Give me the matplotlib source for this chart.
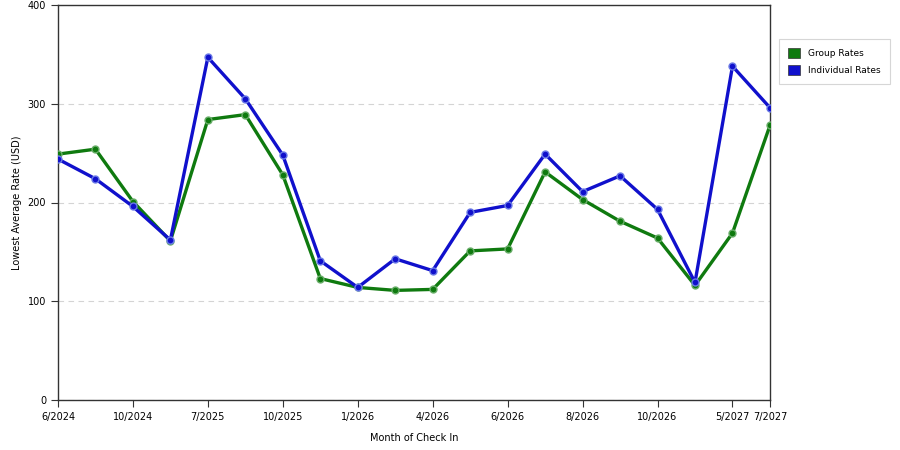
import matplotlib
matplotlib.use('Agg')
import matplotlib.pyplot as plt
from matplotlib.patches import Patch

# month index 0..19, labels shown on every other point plus the last one
months = list(range(20))
tick_pos = [0, 2, 4, 6, 8, 10, 12, 14, 16, 18, 19]
tick_labels = ['6/2024', '10/2024', '7/2025', '10/2025', '1/2026', '4/2026',
               '6/2026', '8/2026', '10/2026', '5/2027', '7/2027']

group_rates = [249, 254, 201, 161, 284, 289, 228, 123, 114, 111,
               112, 151, 153, 231, 203, 181, 164, 116, 169, 278]
individual_rates = [244, 224, 196, 162, 347, 305, 248, 141, 114, 143,
                    131, 190, 197, 249, 211, 227, 193, 119, 338, 296]

green = '#0f7a0f'
blue = '#1010cc'

fig = plt.figure(figsize=(9, 4.5), dpi=100)
ax = fig.add_axes([0.0644, 0.1111, 0.7911, 0.8778])

ax.plot(months, group_rates, color=green, lw=2.4, marker='o', ms=5,
        mfc=green, mec='#6aae6a', mew=1.0, solid_joinstyle='round', zorder=3)
ax.plot(months, individual_rates, color=blue, lw=2.4, marker='o', ms=5,
        mfc=blue, mec='#6a7ae6', mew=1.0, solid_joinstyle='round', zorder=4)

ax.set_xlim(0, 19)
ax.set_ylim(0, 400)
ax.set_xticks(tick_pos)
ax.set_xticklabels(tick_labels)
ax.set_yticks([0, 100, 200, 300, 400])
ax.tick_params(labelsize=7, length=5, color='#333333', direction='out')
ax.yaxis.grid(True, color='#d4d4d4', ls=(0, (5, 4)), lw=0.8)
ax.set_axisbelow(True)
for s in ax.spines.values():
    s.set_color('#333333')
    s.set_linewidth(1)

ax.set_xlabel('Month of Check In', fontsize=7, labelpad=8)
ax.set_ylabel('Lowest Average Rate (USD)', fontsize=7, labelpad=4)

handles = [Patch(facecolor=green, edgecolor='#333333', lw=0.5, label='Group Rates'),
           Patch(facecolor=blue, edgecolor='#333333', lw=0.5, label='Individual Rates')]
leg = fig.legend(handles=handles, loc='upper left', bbox_to_anchor=(0.8656, 0.9133),
                 borderaxespad=0, fontsize=6.5, frameon=True, fancybox=False,
                 handlelength=1.3, handleheight=1.3, handletextpad=0.9,
                 borderpad=1.0, labelspacing=0.8)
leg.get_frame().set_edgecolor('#cccccc')
leg.get_frame().set_linewidth(0.8)

fig.savefig('out.png', dpi=100)
